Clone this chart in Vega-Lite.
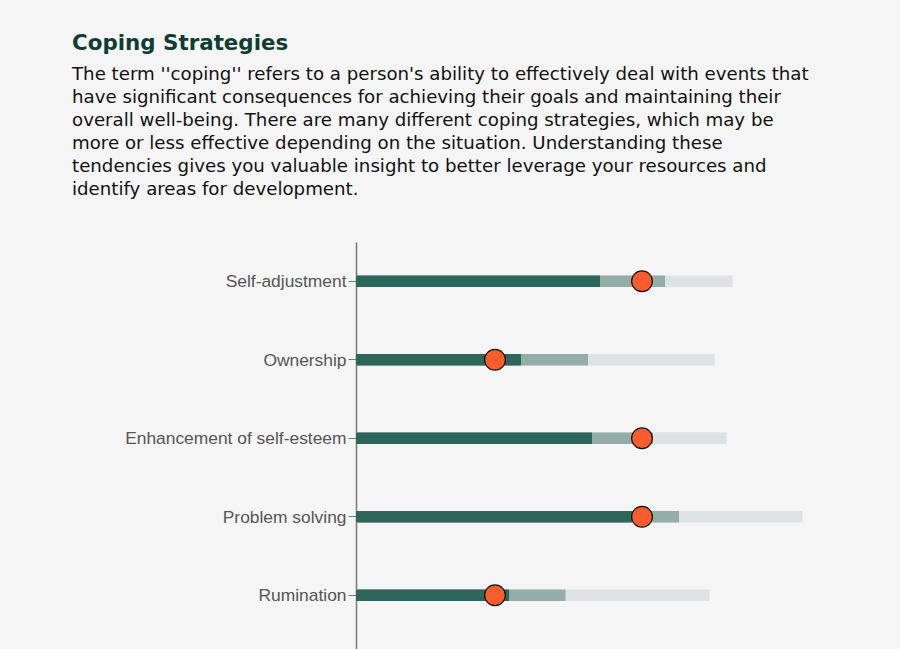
{"$schema":"https://vega.github.io/schema/vega-lite/v6.json","autosize":{"type":"none"},"background":"#f5f5f5","padding":{"left":356,"top":242,"right":0,"bottom":0},"width":544,"height":407,
"title":{"text":"Coping Strategies","subtitle":["The term ''coping'' refers to a person's ability to effectively deal with events that","have significant consequences for achieving their goals and maintaining their","overall well-being. There are many different coping strategies, which may be","more or less effective depending on the situation. Understanding these","tendencies gives you valuable insight to better leverage your resources and","identify areas for development."],"anchor":"start","frame":"group","orient":"top","dx":-284,"offset":0,"baseline":"alphabetic","font":"DejaVu Sans","fontSize":21.4,"fontWeight":"bold","color":"#0f3d33","subtitleFont":"DejaVu Sans","subtitleFontSize":18.2,"subtitleColor":"#111111","subtitleLineHeight":23,"subtitlePadding":8,"dy":-27},
"data":{"values":[
{"category":"Self-adjustment","low":48.8,"mid":61.8,"high":75.3,"score":57.2},
{"category":"Ownership","low":33,"mid":46.4,"high":71.7,"score":27.8},
{"category":"Enhancement of self-esteem","low":47.2,"mid":59.4,"high":74.1,"score":57.2},
{"category":"Problem solving","low":55.2,"mid":64.6,"high":89.3,"score":57.2},
{"category":"Rumination","low":30.6,"mid":41.9,"high":70.7,"score":27.8}]},
"config":{"view":{"stroke":null}},
"encoding":{"y":{"field":"category","type":"nominal","sort":null,"title":null,"scale":{"paddingInner":0,"paddingOuter":0.0924,"align":0},"axis":{"labelFont":"Liberation Sans","labelFontSize":17.4,"labelColor":"#555555","labelLimit":320,"labelOffset":1,"domainColor":"#777777","domainWidth":1.5,"tickColor":"#777777","tickSize":8,"tickWidth":1,"labelPadding":2,"grid":false}}},
"layer":[
{"mark":{"type":"bar","size":11.5,"color":"#dde3e3"},"encoding":{"x":{"field":"high","type":"quantitative","scale":{"domain":[0,108.8],"nice":false},"axis":null}}},
{"mark":{"type":"bar","size":11.5,"color":"#93aea8"},"encoding":{"x":{"field":"mid","type":"quantitative"}}},
{"mark":{"type":"bar","size":11.5,"color":"#2f665c"},"encoding":{"x":{"field":"low","type":"quantitative"}}},
{"mark":{"type":"point","filled":true,"size":430,"color":"#f95d2e","stroke":"#111111","strokeWidth":1.2,"opacity":1},"encoding":{"x":{"field":"score","type":"quantitative"}}}
]}
